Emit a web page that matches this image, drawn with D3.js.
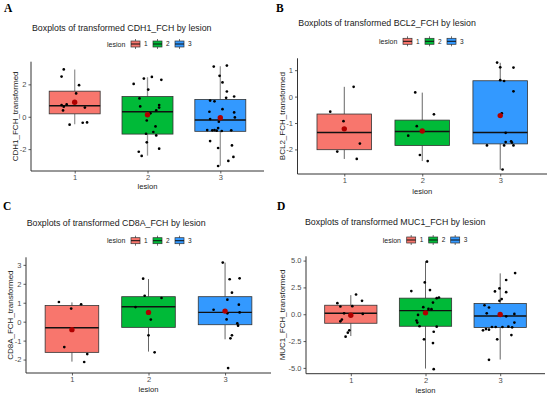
<!DOCTYPE html>
<html>
<head>
<meta charset="utf-8">
<script src="https://cdn.jsdelivr.net/npm/d3@7"></script>
<style>
  body { margin: 0; background: #fff; }
  svg { display: block; font-family: 'Liberation Sans', Arial, sans-serif; }
</style>
</head>
<body>
<svg id="chart" width="550" height="396"></svg>
<script>
/* Data */
const lesions = ['1', '2', '3'];

// Box stats per lesion: [lower whisker, Q1, median, Q3, upper whisker, mean]
const cdh1Boxes = [
  [-0.47, 0.18, 0.68, 1.58, 2.92, 0.9],
  [-2.4, -1.07, 0.31, 1.25, 2.44, 0.12],
  [-3.02, -0.9, -0.2, 1.07, 3.12, -0.06]
];
// Jittered observations: [lesion, jitter offset, value]
const cdh1Points = [
  ['1', -0.15, 2.92], ['1', -0.18, 2.48], ['1', 0.06, 1.95], ['1', 0.02, 1.44],
  ['1', -0.18, 0.72], ['1', -0.11, 0.76], ['1', -0.15, 0.62], ['1', -0.16, 0.39],
  ['1', 0.14, 0.57], ['1', -0.07, -0.49], ['1', 0.11, -0.37], ['1', 0.17, -0.35],
  ['2', -0.19, 2.03], ['2', -0.05, 2.36], ['2', 0.06, 2.46], ['2', 0.19, 2.28],
  ['2', 0.01, 1.68], ['2', -0.11, 1.13], ['2', -0.1, 0.64], ['2', 0.16, 0.72],
  ['2', 0.16, 0.57], ['2', 0.12, 0.39], ['2', 0.04, 0.21], ['2', -0.01, -0.23],
  ['2', 0.11, -0.6], ['2', -0.02, -1.05], ['2', 0.08, -0.94], ['2', 0.12, -1.15],
  ['2', -0.01, -1.58], ['2', 0.16, -1.97], ['2', -0.12, -2.16], ['2', -0.08, -2.42],
  ['3', -0.09, 3.1], ['3', 0.09, 3.16], ['3', -0.01, 2.53], ['3', 0.03, 2.12],
  ['3', 0.09, 1.56], ['3', 0.08, 1.17], ['3', 0.19, 1.25], ['3', -0.14, 1.0],
  ['3', -0.08, 0.95], ['3', 0.03, 0.47], ['3', -0.15, 0.31], ['3', 0.19, 0.27],
  ['3', -0.14, -0.14], ['3', 0.2, -0.04], ['3', -0.02, -0.31], ['3', -0.18, -0.82],
  ['3', -0.11, -0.84], ['3', -0.08, -0.82], ['3', -0.05, -0.86], ['3', 0.02, -0.88],
  ['3', 0.15, -0.84], ['3', -0.03, -0.7], ['3', -0.14, -1.5], ['3', -0.03, -1.93],
  ['3', 0.16, -1.77], ['3', 0.18, -2.48], ['3', 0.11, -2.73], ['3', -0.03, -3.04]
];

const bcl2Boxes = [
  [-2.36, -2.01, -1.36, -0.66, 0.37, -1.22],
  [-2.44, -1.85, -1.32, -0.89, 0.15, -1.3],
  [-2.77, -1.79, -1.36, 0.6, 1.28, -0.72]
];
const bcl2Points = [
  ['1', -0.18, -0.57], ['1', -0.01, -0.93], ['1', 0.12, 0.37], ['1', 0.2, -1.78],
  ['1', -0.09, -2.08], ['1', 0.16, -2.36],
  ['2', -0.09, 0.16], ['2', 0.15, -0.67], ['2', -0.07, -1.12], ['2', -0.18, -1.48],
  ['2', -0.03, -2.21], ['2', 0.07, -2.44],
  ['3', -0.04, 1.29], ['3', 0.0, 1.11], ['3', 0.17, 1.1], ['3', 0.0, 0.62],
  ['3', 0.05, 0.59], ['3', 0.17, 0.2], ['3', 0.02, -0.63], ['3', 0.07, -1.37],
  ['3', -0.17, -1.85], ['3', 0.05, -1.85], ['3', 0.07, -1.72], ['3', 0.14, -1.69],
  ['3', 0.15, -1.74], ['3', 0.17, -1.85], ['3', 0.03, -2.76]
];

const cd8aBoxes = [
  [-2.11, -1.62, -0.32, 0.85, 1.02, -0.42],
  [-1.58, -0.3, 0.79, 1.32, 2.25, 0.49],
  [-0.93, -0.16, 0.49, 1.32, 3.12, 0.56]
];
const cd8aPoints = [
  ['1', -0.17, 1.04], ['1', -0.01, 0.69], ['1', 0.12, 0.92], ['1', -0.1, -1.34],
  ['1', 0.2, -1.71], ['1', 0.16, -2.13],
  ['2', -0.07, 2.27], ['2', -0.05, 1.37], ['2', 0.17, 1.25], ['2', -0.17, 0.77],
  ['2', 0.03, 0.11], ['2', 0.0, -0.72], ['2', 0.08, -1.62],
  ['3', -0.03, 3.12], ['3', 0.06, 2.24], ['3', 0.19, 2.29], ['3', 0.09, 1.53],
  ['3', 0.03, 1.16], ['3', 0.18, 0.9], ['3', -0.15, 0.63], ['3', 0.19, 0.49],
  ['3', 0.03, 0.44], ['3', 0.02, 0.12], ['3', 0.16, -0.09], ['3', 0.17, -0.21],
  ['3', 0.09, -0.72], ['3', 0.07, -0.88], ['3', 0.04, -2.45]
];

const muc1Boxes = [
  [-2.03, -0.84, 0.09, 0.84, 1.78, -0.09],
  [-5.06, -1.12, 0.34, 1.5, 4.94, 0.13],
  [-4.22, -1.23, -0.17, 1.0, 3.81, -0.03]
];
const muc1Points = [
  ['1', -0.18, 1.03], ['1', -0.14, 0.72], ['1', 0.07, 1.84], ['1', 0.15, 1.25],
  ['1', 0.02, 0.75], ['1', -0.09, 0.09], ['1', 0.16, 0.03], ['1', -0.12, -0.5],
  ['1', -0.14, -0.66], ['1', -0.02, -1.5], ['1', -0.04, -1.72], ['1', -0.07, -2.09],
  ['2', 0.02, 4.9], ['2', -0.01, 2.97], ['2', -0.19, 2.16], ['2', 0.06, 2.25],
  ['2', 0.18, 1.56], ['2', 0.15, 1.5], ['2', 0.1, 1.09], ['2', -0.03, 0.66],
  ['2', 0.04, 0.5], ['2', 0.08, 0.47], ['2', -0.1, -0.06], ['2', -0.12, -0.59],
  ['2', -0.11, -0.78], ['2', -0.08, -1.12], ['2', 0.15, -1.16], ['2', 0.11, -1.63],
  ['2', -0.02, -2.34], ['2', 0.1, -2.69], ['2', 0.11, -5.12],
  ['3', 0.2, 3.84], ['3', 0.08, 3.19], ['3', -0.01, 2.41], ['3', -0.07, 2.13],
  ['3', 0.08, 2.06], ['3', 0.02, 1.41], ['3', -0.01, 1.25], ['3', -0.21, 0.84],
  ['3', -0.15, 0.63], ['3', -0.18, 0.09], ['3', 0.19, 0.03], ['3', 0.08, -0.19],
  ['3', 0.19, -0.78], ['3', 0.11, -1.16], ['3', 0.16, -1.22], ['3', 0.03, -1.19],
  ['3', -0.06, -1.19], ['3', -0.11, -1.19], ['3', -0.19, -1.38], ['3', -0.15, -1.44],
  ['3', -0.23, -1.5], ['3', -0.04, -2.34], ['3', 0.15, -1.94], ['3', -0.15, -4.25]
];

/* Styles */
const FILL = { 1: '#F8766D', 2: '#00BA38', 3: '#3399FF' };
const AXIS_COLOR = '#333333';
const TICK_TEXT = '#4D4D4D';
const TEXT_COLOR = '#1a1a1a';
const MEAN_COLOR = '#B00000';

const svg = d3.select('#chart');

// ggplot prints a plain hyphen for negatives
const intFmt = (d) => d3.format('d')(d).replace('−', '-');
const oneDecFmt = (d) => d3.format('.1f')(d).replace('−', '-');

/* Panel layouts */
const panels = [
  {
    letter: 'A', gene: 'CDH1', boxes: cdh1Boxes, points: cdh1Points,
    left: 31, right: 264, top: 61.7, bottom: 171,
    yDomain: [-3.35, 3.4], yTicks: [-2, 0, 2], fmt: intFmt,
    titleX: 32, titleY: 31, legendX: 107, legendY: 44,
    letterX: 4, letterY: 12, yLabelX: 15, xLabelY: 189,
    whiskerColor: '#999999', whiskerWidth: 1.3
  },
  {
    letter: 'B', gene: 'BCL2', boxes: bcl2Boxes, points: bcl2Points,
    left: 297.5, right: 547, top: 58.3, bottom: 174,
    yDomain: [-2.93, 1.45], yTicks: [-2, -1, 0, 1], fmt: intFmt,
    titleX: 298.3, titleY: 26, legendX: 379, legendY: 41.3,
    letterX: 276, letterY: 12, yLabelX: 282, xLabelY: 193.5,
    whiskerColor: '#555555', whiskerWidth: 0.9
  },
  {
    letter: 'C', gene: 'CD8A', boxes: cd8aBoxes, points: cd8aPoints,
    left: 26, right: 271, top: 257.3, bottom: 373,
    yDomain: [-2.71, 3.4], yTicks: [-2, -1, 0, 1, 2, 3], fmt: intFmt,
    titleX: 26.7, titleY: 225.5, legendX: 107, legendY: 240.7,
    letterX: 3, letterY: 210, yLabelX: 10, xLabelY: 391.5,
    whiskerColor: '#555555', whiskerWidth: 0.9
  },
  {
    letter: 'D', gene: 'MUC1', boxes: muc1Boxes, points: muc1Points,
    left: 306, right: 545, top: 256.3, bottom: 373.7,
    yDomain: [-5.54, 5.4], yTicks: [-5, -2.5, 0, 2.5, 5], fmt: oneDecFmt,
    titleX: 305, titleY: 224.5, legendX: 382.7, legendY: 240,
    letterX: 277, letterY: 210, yLabelX: 281.7, xLabelY: 392.5,
    whiskerColor: '#555555', whiskerWidth: 0.9
  }
];

panels.forEach(drawPanel);

/**
 * Draws one boxplot panel with jittered points and mean markers.
 */
function drawPanel (p) {
  const g = svg.append('g');

  const x = d3.scalePoint().domain(lesions).range([p.left, p.right]).padding(0.6);
  const step = x.step();
  const y = d3.scaleLinear().domain(p.yDomain).range([p.bottom, p.top]);
  const boxW = step * 0.7;

  // panel letter
  g.append('text')
    .attr('x', p.letterX)
    .attr('y', p.letterY)
    .style('font-family', "'Liberation Serif', 'DejaVu Serif', serif")
    .style('font-weight', 'bold')
    .style('font-size', '11.5px')
    .style('fill', '#000')
    .text(p.letter);

  // title
  g.append('text')
    .attr('x', p.titleX)
    .attr('y', p.titleY)
    .style('font-size', '8.8px')
    .style('fill', TEXT_COLOR)
    .text(`Boxplots of transformed ${p.gene}_FCH by lesion`);

  // legend
  const leg = g.append('g').attr('transform', `translate(${p.legendX},${p.legendY})`);
  leg.append('text')
    .attr('y', 2.5)
    .style('font-size', '7px')
    .style('fill', TEXT_COLOR)
    .text('lesion');
  lesions.forEach((l, i) => {
    const kx = 24 + 22 * i;
    leg.append('line')
      .attr('x1', kx + 4.5).attr('x2', kx + 4.5)
      .attr('y1', -5).attr('y2', 5)
      .attr('stroke', AXIS_COLOR).attr('stroke-width', 0.7);
    leg.append('rect')
      .attr('x', kx).attr('y', -3)
      .attr('width', 9).attr('height', 6)
      .attr('fill', FILL[l])
      .attr('stroke', AXIS_COLOR).attr('stroke-width', 0.7);
    leg.append('line')
      .attr('x1', kx).attr('x2', kx + 9)
      .attr('y1', 0).attr('y2', 0)
      .attr('stroke', '#111').attr('stroke-width', 1);
    leg.append('text')
      .attr('x', kx + 13)
      .attr('y', 2.3)
      .style('font-size', '6.5px')
      .style('fill', TEXT_COLOR)
      .text(l);
  });

  // boxes
  const boxes = p.boxes.map((b, i) => ({
    lesion: lesions[i], lo: b[0], q1: b[1], med: b[2], q3: b[3], hi: b[4], mean: b[5]
  }));

  const bg = g.selectAll('g.box').data(boxes).join('g').attr('class', 'box');
  bg.append('line')
    .attr('x1', (d) => x(d.lesion)).attr('x2', (d) => x(d.lesion))
    .attr('y1', (d) => y(d.hi)).attr('y2', (d) => y(d.q3))
    .attr('stroke', p.whiskerColor).attr('stroke-width', p.whiskerWidth);
  bg.append('line')
    .attr('x1', (d) => x(d.lesion)).attr('x2', (d) => x(d.lesion))
    .attr('y1', (d) => y(d.q1)).attr('y2', (d) => y(d.lo))
    .attr('stroke', p.whiskerColor).attr('stroke-width', p.whiskerWidth);
  bg.append('rect')
    .attr('x', (d) => x(d.lesion) - boxW / 2)
    .attr('width', boxW)
    .attr('y', (d) => y(d.q3))
    .attr('height', (d) => y(d.q1) - y(d.q3))
    .attr('fill', (d) => FILL[d.lesion])
    .attr('stroke', AXIS_COLOR)
    .attr('stroke-width', 0.8);
  bg.append('line')
    .attr('x1', (d) => x(d.lesion) - boxW / 2).attr('x2', (d) => x(d.lesion) + boxW / 2)
    .attr('y1', (d) => y(d.med)).attr('y2', (d) => y(d.med))
    .attr('stroke', '#111').attr('stroke-width', 1.4);

  // jittered points
  g.append('g')
    .selectAll('circle')
    .data(p.points)
    .join('circle')
    .attr('cx', (d) => x(d[0]) + d[1] * step)
    .attr('cy', (d) => y(d[2]))
    .attr('r', 1.35)
    .attr('fill', '#000');

  // means
  g.append('g')
    .selectAll('circle')
    .data(boxes)
    .join('circle')
    .attr('cx', (d) => x(d.lesion))
    .attr('cy', (d) => y(d.mean))
    .attr('r', 2.7)
    .attr('fill', MEAN_COLOR);

  // axes
  const yAxis = g.append('g')
    .attr('transform', `translate(${p.left},0)`)
    .call(d3.axisLeft(y).tickValues(p.yTicks).tickFormat(p.fmt).tickSize(2.5).tickPadding(2));
  yAxis.select('.domain').attr('d', `M0,${p.top}V${p.bottom}`);

  const xAxis = g.append('g')
    .attr('transform', `translate(0,${p.bottom})`)
    .call(d3.axisBottom(x).tickSize(2.5).tickPadding(1));
  xAxis.select('.domain').attr('d', `M${p.left},0H${p.right}`);

  [yAxis, xAxis].forEach((ax) => {
    ax.select('.domain').attr('stroke', AXIS_COLOR).attr('stroke-width', 1);
    ax.selectAll('.tick line').attr('stroke', AXIS_COLOR).attr('stroke-width', 0.8);
    ax.selectAll('.tick text')
      .style('font-family', "'Liberation Sans', Arial, sans-serif")
      .style('font-size', '7.5px')
      .style('fill', TICK_TEXT);
  });

  // axis labels
  g.append('text')
    .attr('x', (p.left + p.right) / 2)
    .attr('y', p.xLabelY)
    .attr('text-anchor', 'middle')
    .style('font-size', '7.6px')
    .style('fill', TEXT_COLOR)
    .text('lesion');

  g.append('text')
    .attr('transform', `translate(${p.yLabelX + 2.8},${(p.top + p.bottom) / 2}) rotate(-90)`)
    .attr('text-anchor', 'middle')
    .style('font-size', '8px')
    .style('fill', TEXT_COLOR)
    .text(`${p.gene}_FCH_transformed`);
}
</script>
</body>
</html>
